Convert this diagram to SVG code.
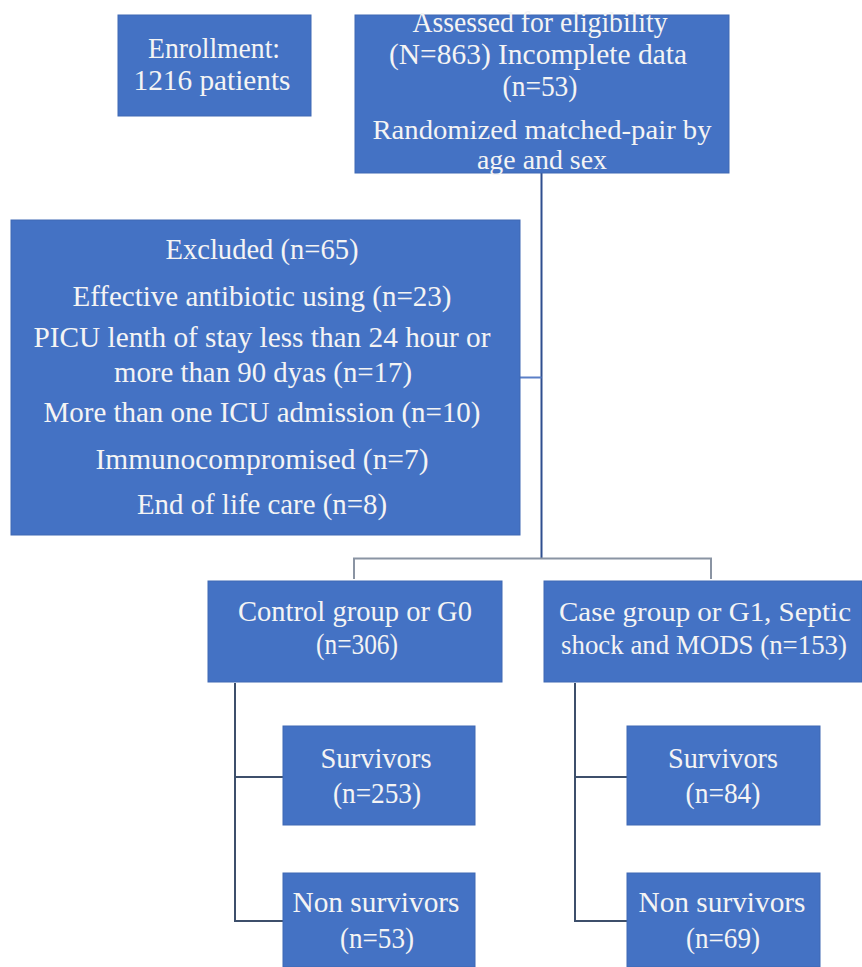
<svg xmlns="http://www.w3.org/2000/svg" width="862" height="967" viewBox="0 0 862 967">
<style>
.box{fill:#4472C4;stroke:#3f68b4;stroke-width:1}
.t{font-family:"Liberation Serif","Times New Roman",serif;font-size:29px;fill:#f4f4f4;text-anchor:middle}
.s{font-size:27px}
.ln{fill:none;stroke-width:2}
</style>
<rect width="862" height="967" fill="#ffffff"/>
<g id="connectors">
<path class="ln" d="M541.5,173 V558" stroke="#2f4f8f"/>
<path class="ln" d="M520,377.5 H541.5" stroke="#5b7fc7"/>
<path class="ln" d="M354,579 V558.5 H711 V579" stroke="#8a94a3"/>
<path class="ln" d="M235,683 V921 H283 M235,777 H283" stroke="#3d4f6b"/>
<path class="ln" d="M575,683 V921 H627 M575,777 H627" stroke="#3d4f6b"/>
</g>
<g id="enrollment">
<rect class="box" x="118" y="15" width="193" height="101"/>
<text class="t" x="214" y="58" textLength="132" lengthAdjust="spacingAndGlyphs">Enrollment:</text>
<text class="t" x="212" y="90" textLength="157" lengthAdjust="spacingAndGlyphs">1216  patients</text>
</g>
<g id="assessed">
<rect class="box" x="355" y="15" width="374" height="158"/>
<text class="t" x="540" y="32" textLength="255" lengthAdjust="spacingAndGlyphs">Assessed for eligibility</text>
<text class="t" x="538" y="64" textLength="298" lengthAdjust="spacingAndGlyphs">(N=863)  Incomplete  data</text>
<text class="t" x="540" y="96" textLength="75" lengthAdjust="spacingAndGlyphs">(n=53)</text>
<text class="t s" x="542" y="139" textLength="339" lengthAdjust="spacingAndGlyphs">Randomized  matched-pair by</text>
<text class="t s" x="542" y="169" textLength="130" lengthAdjust="spacingAndGlyphs">age and sex</text>
</g>
<g id="excluded">
<rect class="box" x="11" y="220" width="509" height="315"/>
<text class="t" x="262" y="259" textLength="193" lengthAdjust="spacingAndGlyphs">Excluded  (n=65)</text>
<text class="t" x="262" y="306" textLength="379" lengthAdjust="spacingAndGlyphs">Effective  antibiotic using (n=23)</text>
<text class="t" x="262" y="347" textLength="457" lengthAdjust="spacingAndGlyphs">PICU  lenth of stay less than 24 hour or</text>
<text class="t" x="263" y="382" textLength="298" lengthAdjust="spacingAndGlyphs">more  than 90  dyas (n=17)</text>
<text class="t" x="262" y="422" textLength="437" lengthAdjust="spacingAndGlyphs">More than one ICU  admission (n=10)</text>
<text class="t" x="262" y="469" textLength="333" lengthAdjust="spacingAndGlyphs">Immunocompromised   (n=7)</text>
<text class="t" x="262" y="514" textLength="250" lengthAdjust="spacingAndGlyphs">End of life  care (n=8)</text>
</g>
<g id="control">
<rect class="box" x="208" y="581" width="294" height="101"/>
<text class="t" x="355" y="621" textLength="234" lengthAdjust="spacingAndGlyphs">Control group or G0</text>
<text class="t" x="357" y="654" textLength="82" lengthAdjust="spacingAndGlyphs">(n=306)</text>
</g>
<g id="case">
<rect class="box" x="544" y="581" width="318" height="101"/>
<text class="t s" x="705" y="621" textLength="292" lengthAdjust="spacingAndGlyphs">Case group or G1, Septic</text>
<text class="t s" x="704" y="654" textLength="286" lengthAdjust="spacingAndGlyphs">shock and MODS (n=153)</text>
</g>
<g id="control-survivors">
<rect class="box" x="283" y="726" width="192" height="99"/>
<text class="t" x="376" y="768" textLength="111" lengthAdjust="spacingAndGlyphs">Survivors</text>
<text class="t" x="377" y="803" textLength="88" lengthAdjust="spacingAndGlyphs">(n=253)</text>
</g>
<g id="control-nonsurvivors">
<rect class="box" x="283" y="873" width="192" height="94"/>
<text class="t" x="376" y="912" textLength="167" lengthAdjust="spacingAndGlyphs">Non survivors</text>
<text class="t" x="377" y="948" textLength="74" lengthAdjust="spacingAndGlyphs">(n=53)</text>
</g>
<g id="case-survivors">
<rect class="box" x="627" y="726" width="193" height="99"/>
<text class="t" x="723" y="768" textLength="110" lengthAdjust="spacingAndGlyphs">Survivors</text>
<text class="t" x="723" y="803" textLength="75" lengthAdjust="spacingAndGlyphs">(n=84)</text>
</g>
<g id="case-nonsurvivors">
<rect class="box" x="627" y="873" width="193" height="94"/>
<text class="t" x="722" y="912" textLength="167" lengthAdjust="spacingAndGlyphs">Non survivors</text>
<text class="t" x="723" y="948" textLength="74" lengthAdjust="spacingAndGlyphs">(n=69)</text>
</g>
</svg>
